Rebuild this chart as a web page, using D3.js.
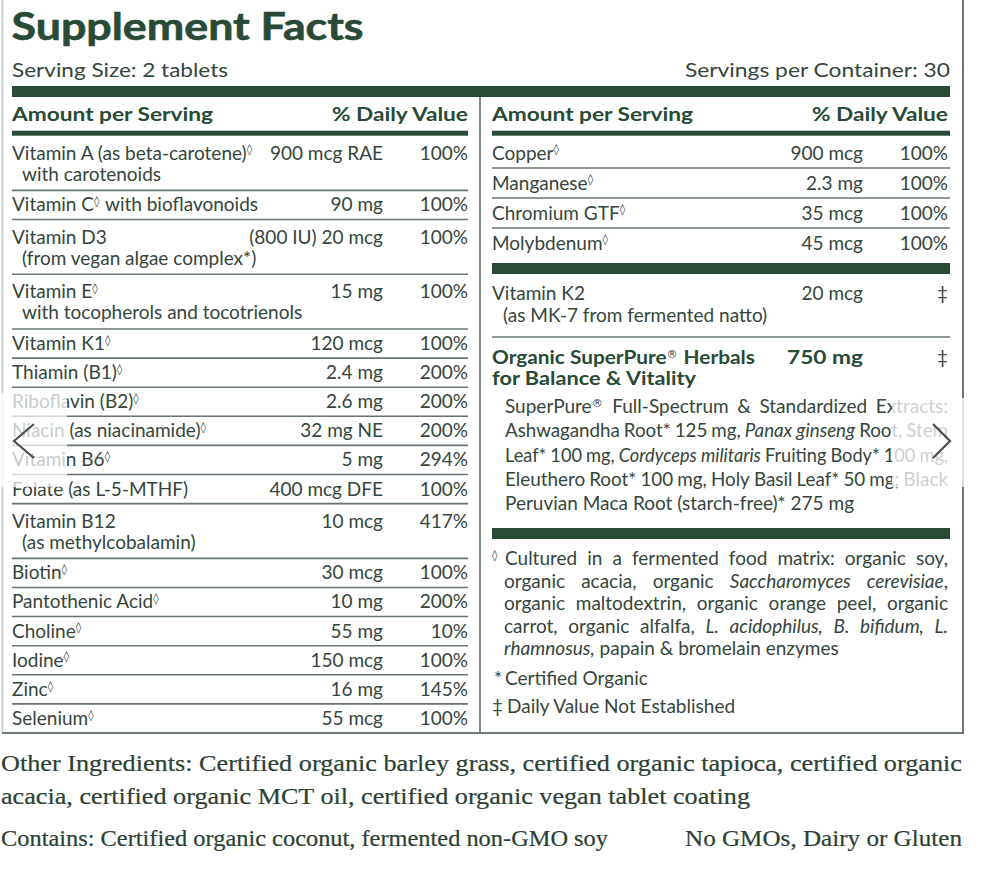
<!DOCTYPE html>
<html><head><meta charset="utf-8">
<script src="https://cdn.jsdelivr.net/npm/d3@7"></script>
<style>html,body{margin:0;padding:0;background:#fff;}svg{display:block}text{white-space:pre}</style>
</head><body>
<svg id="c" width="982" height="882"></svg>
<script>
// ---------------- DATA ----------------
const title = "Supplement Facts";
const servingSize = "Serving Size: 2 tablets";
const servingsPer = "Servings per Container: 30";
const headerAmount = "Amount per Serving";
const headerDV = "% Daily Value";

const leftNames = ["Vitamin A (as beta-carotene)◊", "Vitamin C◊ with bioflavonoids", "Vitamin D3", "Vitamin E◊",
  "Vitamin K1◊", "Thiamin (B1)◊", "Riboflavin (B2)◊", "Niacin (as niacinamide)◊", "Vitamin B6◊",
  "Folate (as L-5-MTHF)", "Vitamin B12", "Biotin◊", "Pantothenic Acid◊", "Choline◊", "Iodine◊", "Zinc◊", "Selenium◊"];
const leftSubs = ["with carotenoids", "", "(from vegan algae complex*)", "with tocopherols and tocotrienols",
  "", "", "", "", "", "", "(as methylcobalamin)", "", "", "", "", "", ""];
const leftAmounts = ["900 mcg RAE", "90 mg", "(800 IU) 20 mcg", "15 mg", "120 mcg", "2.4 mg", "2.6 mg",
  "32 mg NE", "5 mg", "400 mcg DFE", "10 mcg", "30 mcg", "10 mg", "55 mg", "150 mcg", "16 mg", "55 mcg"];
const leftDV = ["100%", "100%", "100%", "100%", "100%", "200%", "200%", "200%", "294%", "100%", "417%",
  "100%", "200%", "10%", "100%", "145%", "100%"];

const rightNames = ["Copper◊", "Manganese◊", "Chromium GTF◊", "Molybdenum◊"];
const rightAmounts = ["900 mcg", "2.3 mg", "35 mcg", "45 mcg"];
const rightDV = ["100%", "100%", "100%", "100%"];

const k2Name = "Vitamin K2", k2Sub = "(as MK-7 from fermented natto)", k2Amount = "20 mcg", k2DV = "‡";
const herbalName = ["Organic SuperPure® Herbals", "for Balance & Vitality"];
const herbalAmount = "750 mg", herbalDV = "‡";
const herbalText = [
  "SuperPure® Full-Spectrum & Standardized Extracts:",
  "Ashwagandha Root* 125 mg, _Panax ginseng_ Root, Stem",
  "Leaf* 100 mg, _Cordyceps militaris_ Fruiting Body* 100 mg,",
  "Eleuthero Root* 100 mg, Holy Basil Leaf* 50 mg; Black",
  "Peruvian Maca Root (starch-free)* 275 mg"
];
const footnoteText = [
  "Cultured in a fermented food matrix: organic soy,",
  "organic acacia, organic _Saccharomyces cerevisiae_,",
  "organic maltodextrin, organic orange peel, organic",
  "carrot, organic alfalfa, _L. acidophilus, B. bifidum, L._",
  "_rhamnosus,_ papain & bromelain enzymes"
];
const certifiedNote = "Certified Organic";
const dvNote = "Daily Value Not Established";
const otherIngredients = [
  "Other Ingredients: Certified organic barley grass, certified organic tapioca, certified organic",
  "acacia, certified organic MCT oil, certified organic vegan tablet coating"
];
const containsText = "Contains: Certified organic coconut, fermented non-GMO soy";
const freeFromText = "No GMOs, Dairy or Gluten";

// ---------------- STYLE ----------------
const BODY = "Lato, 'Open Sans', 'DejaVu Sans', sans-serif";
const SERIF = "'Liberation Serif', 'DejaVu Serif', serif";
const SYM = "'DejaVu Sans', sans-serif";
const GREEN = "#284a36", TEXT = "#35453c", RULE = "#66756d", SERIFC = "#2c4034";
const SIZE = 19, BSIZE = 19;

const svg = d3.select("#c");

function natural(str, size, weight, family) {
  const t = svg.append("text").attr("font-family", family).attr("font-size", size)
    .attr("font-weight", weight).text(str);
  const w = t.node().getComputedTextLength(); t.remove(); return w;
}
const clamp = v => Math.max(0.8, Math.min(1.25, v));
const kBody = clamp(235 / natural("Vitamin A (as beta-carotene)", SIZE, 400, BODY));
const kBold = clamp(201 / natural(headerAmount, BSIZE, 700, BODY));
const spaceW = (natural("n n", SIZE, 400, BODY) - natural("nn", SIZE, 400, BODY)) * kBody;

function parseRich(str) {
  const out = []; let it = false;
  for (const ch of str) {
    if (ch === "_") { it = !it; continue; }
    out.push({ ch, it, sup: ch === "◊" || ch === "®" });
  }
  return out;
}
function groupSegs(chars) {
  const segs = [];
  chars.forEach(c => {
    const last = segs[segs.length - 1];
    if (last && last.it === c.it && last.sup === c.sup) last.t += c.ch;
    else segs.push({ t: c.ch, it: c.it, sup: c.sup });
  });
  return segs;
}
function makeSegs(g, segs, y, o) {
  let off = 0; const items = [];
  segs.forEach(seg => {
    const t = g.append("text")
      .attr("y", seg.sup ? y - o.size * 0.33 : y)
      .attr("font-family", seg.sup ? SYM : (o.family || BODY))
      .attr("font-size", seg.sup ? o.size * 0.58 : o.size)
      .attr("font-weight", seg.sup ? 400 : (o.weight || 400))
      .attr("font-style", seg.it ? "italic" : "normal")
      .attr("fill", o.fill || TEXT)
      .text(seg.t);
    if (o.stroke) t.attr("stroke", o.fill).attr("stroke-width", o.stroke);
    let w = t.node().getComputedTextLength();
    const k = o.k || 1;
    if (!seg.sup && Math.abs(k - 1) > 0.002) {
      t.attr("textLength", w * k).attr("lengthAdjust", "spacingAndGlyphs");
      w *= k;
    }
    items.push({ t, off });
    off += w + (seg.sup ? 1 : 0);
  });
  return { width: off, place(x) { items.forEach(d => d.t.attr("x", x + d.off)); } };
}
function richText(g, str, x, y, o) {
  const r = makeSegs(g, groupSegs(parseRich(str)), y, o);
  const a = o.anchor || "start";
  r.place(a === "end" ? x - r.width : a === "middle" ? x - r.width / 2 : x);
  return r.width;
}
function fitText(g, str, x, y, width, o) {
  const k = width / natural(str.replace(/_/g, ""), o.size, o.weight || 400, o.family || BODY);
  return richText(g, str, x, y, Object.assign({}, o, { k }));
}
function paraLine(g, str, x0, x1, y, o, justify) {
  const chars = parseRich(str);
  const words = []; let cur = [];
  chars.forEach(c => {
    if (c.ch === " ") { if (cur.length) { words.push(cur); cur = []; } }
    else cur.push(c);
  });
  if (cur.length) words.push(cur);
  const build = opts => {
    const lg = g.append("g");
    const ws = words.map(w => makeSegs(lg, groupSegs(w), y, opts));
    return { lg, ws, total: d3.sum(ws, w => w.width) };
  };
  let r = build(o);
  const n = r.ws.length, minGap = spaceW * 0.85, avail = x1 - x0;
  if (r.total + (n - 1) * minGap > avail) {
    const f = (avail - (n - 1) * minGap) / r.total;
    r.lg.remove();
    r = build(Object.assign({}, o, { k: o.k * f }));
  }
  const gap = justify && n > 1 ? (avail - r.total) / (n - 1) : spaceW;
  let x = x0;
  r.ws.forEach(w => { w.place(x); x += w.width + gap; });
}

const body = { size: SIZE, k: kBody, fill: TEXT };
const bold = { size: BSIZE, k: kBold, weight: 700, fill: GREEN };
const endA = o => Object.assign({}, o, { anchor: "end" });

// ---------------- FRAME ----------------
const frame = svg.append("g");
frame.append("line").attr("x1", 2.5).attr("x2", 2.5).attr("y1", 0).attr("y2", 733)
  .attr("stroke", "#c9d3cf").attr("stroke-width", 2);
frame.append("line").attr("x1", 963).attr("x2", 963).attr("y1", 0).attr("y2", 734)
  .attr("stroke", "#6c7a73").attr("stroke-width", 2);
frame.append("line").attr("x1", 2).attr("x2", 964).attr("y1", 733).attr("y2", 733)
  .attr("stroke", "#6c7a73").attr("stroke-width", 2);
frame.append("line").attr("x1", 480).attr("x2", 480).attr("y1", 97).attr("y2", 733)
  .attr("stroke", "#5d6b63").attr("stroke-width", 1.6);

// title
const T = svg.append("g");
fitText(T, title, 11.5, 40, 352, { size: 38, weight: 700, fill: GREEN, stroke: 0.6 });
fitText(T, servingSize, 12, 76.5, 216, { size: 18.5, fill: TEXT });
fitText(T, servingsPer, 950, 76.5, 265, { size: 18.5, fill: TEXT, anchor: "end" });
T.append("rect").attr("x", 12).attr("y", 86).attr("width", 938).attr("height", 11).attr("fill", GREEN);

// column headers
[[12, 468], [492, 948]].forEach(([x0, x1]) => {
  richText(T, headerAmount, x0, 120.7, bold);
  richText(T, headerDV, x1, 120.7, endA(bold));
  T.append("rect").attr("x", x0).attr("y", 130.7).attr("width", (x1 === 948 ? 950 : x1) - x0)
    .attr("height", 5).attr("fill", GREEN);
});

// ---------------- LEFT COLUMN ----------------
const L = svg.append("g");
const units = leftSubs.map(s => s ? 1.88 : 1);
const cum = [0]; units.forEach(u => cum.push(cum[cum.length - 1] + u));
const yL = d3.scaleLinear().domain([0, cum[cum.length - 1]]).range([135.7, 733]);
leftNames.forEach((name, i) => {
  const t = yL(cum[i]), b = yL(cum[i + 1]);
  const base = leftSubs[i] ? t + 24 : t + 21;
  richText(L, name, 12, base, body);
  if (leftSubs[i]) richText(L, leftSubs[i], 22, base + 21, body);
  richText(L, leftAmounts[i], 383, base, endA(body));
  richText(L, leftDV[i], 468, base, endA(body));
  if (i < leftNames.length - 1)
    L.append("line").attr("x1", 12).attr("x2", 468).attr("y1", b).attr("y2", b)
      .attr("stroke", RULE).attr("stroke-width", 1.6);
});

// ---------------- RIGHT COLUMN ----------------
const R = svg.append("g");
const yR = d3.scaleLinear().domain([0, rightNames.length]).range([138, 258]);
rightNames.forEach((name, i) => {
  const t = yR(i), b = yR(i + 1);
  const base = t + 21.5;
  richText(R, name, 492, base, body);
  richText(R, rightAmounts[i], 863, base, endA(body));
  richText(R, rightDV[i], 948, base, endA(body));
  if (i < rightNames.length - 1)
    R.append("line").attr("x1", 492).attr("x2", 950).attr("y1", b).attr("y2", b)
      .attr("stroke", RULE).attr("stroke-width", 1.6);
});
R.append("rect").attr("x", 492).attr("y", 263).attr("width", 458).attr("height", 11).attr("fill", GREEN);

// Vitamin K2
richText(R, k2Name, 492, 300, body);
richText(R, k2Sub, 503, 322, body);
richText(R, k2Amount, 863, 300, endA(body));
richText(R, k2DV, 948, 300, endA(body));
R.append("line").attr("x1", 492).attr("x2", 950).attr("y1", 337).attr("y2", 337)
  .attr("stroke", RULE).attr("stroke-width", 1.6);

// Herbals
fitText(R, herbalName[0], 492, 364, 268, bold);
fitText(R, herbalName[1], 492, 385, 204, bold);
richText(R, herbalAmount, 863, 364, endA(bold));
richText(R, herbalDV, 948, 364, endA(body));

const yHerb = d3.scaleLinear().domain([0, herbalText.length - 1]).range([413, 510]);
herbalText.forEach((line, i) => paraLine(R, line, 505, 948, yHerb(i), body, i < herbalText.length - 1));

R.append("rect").attr("x", 492).attr("y", 528).attr("width", 458).attr("height", 11).attr("fill", GREEN);

// Footnotes
const yFoot = d3.scaleLinear().domain([0, footnoteText.length - 1]).range([565, 655]);
R.append("text").attr("x", 492).attr("y", 565 - SIZE * 0.33).attr("font-family", SYM)
  .attr("font-size", SIZE * 0.58).attr("fill", TEXT).text("◊");
footnoteText.forEach((line, i) => paraLine(R, line, i === 0 ? 505 : 504, 948, yFoot(i), body, i < footnoteText.length - 1));
richText(R, "*", 494, 685, body);
richText(R, certifiedNote, 505, 685, body);
richText(R, "‡", 492, 713, body);
richText(R, dvNote, 507, 713, body);

// ---------------- BOTTOM TEXT ----------------
const B = svg.append("g");
const serif = { size: 23, family: SERIF, fill: SERIFC, stroke: 0.2 };
fitText(B, otherIngredients[0], 1, 771, 961, serif);
fitText(B, otherIngredients[1], 1, 804, 749, serif);
fitText(B, containsText, 1, 846, 607, serif);
fitText(B, freeFromText, 962, 846, 277, endA(serif));

// ---------------- CAROUSEL OVERLAY ----------------
const O = svg.append("g");
O.append("rect").attr("x", 0).attr("y", 393).attr("width", 67).attr("height", 94)
  .attr("fill", "#fff").attr("opacity", 0.72);
O.append("rect").attr("x", 892).attr("y", 398).attr("width", 75).attr("height", 89)
  .attr("fill", "#fff").attr("opacity", 0.75);
const chev = d3.line();
O.append("path").attr("d", chev([[34, 424], [14, 441], [34, 458]]))
  .attr("fill", "none").attr("stroke", "#4d4d4d").attr("stroke-width", 2.2);
O.append("path").attr("d", chev([[933, 424], [950, 441], [933, 458]]))
  .attr("fill", "none").attr("stroke", "#4d4d4d").attr("stroke-width", 2.2);
</script>
</body></html>
